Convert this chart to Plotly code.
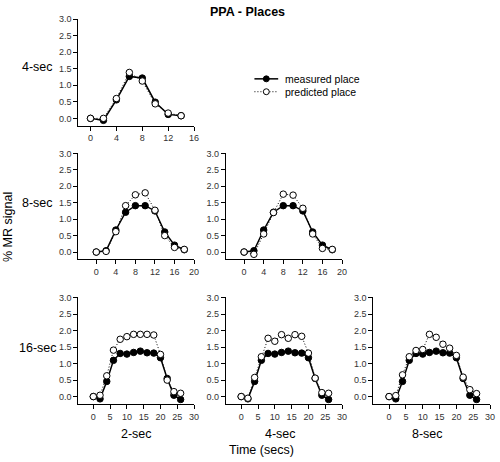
import plotly.graph_objects as go

# ---- data ----
t_short = [0, 2, 4, 6, 8, 10, 12, 14]
t_mid = [0, 2, 4, 6, 8, 10, 12, 14, 16, 18]
t_long = [0, 2, 4, 6, 8, 10, 12, 14, 16, 18, 20, 22, 24, 26]

meas_4 = [0.0, -0.06, 0.56, 1.27, 1.22, 0.49, 0.12, 0.08]
pred_4_2 = [0.0, 0.0, 0.60, 1.39, 1.13, 0.44, 0.16, 0.08]

meas_8 = [0.0, 0.04, 0.67, 1.21, 1.41, 1.41, 1.25, 0.61, 0.21, 0.07]
pred_8_2 = [0.0, 0.02, 0.62, 1.41, 1.74, 1.80, 1.27, 0.50, 0.14, 0.08]
pred_8_4 = [0.0, -0.07, 0.55, 1.20, 1.76, 1.73, 1.33, 0.55, 0.11, 0.08]

meas_16 = [0.0, -0.07, 0.46, 1.10, 1.31, 1.29, 1.34, 1.38, 1.33, 1.32, 1.18, 0.55, 0.04, -0.09]
pred_16_2 = [0.0, 0.04, 0.63, 1.41, 1.74, 1.82, 1.89, 1.89, 1.89, 1.87, 1.28, 0.50, 0.15, 0.10]
pred_16_4 = [0.0, -0.05, 0.58, 1.21, 1.77, 1.68, 1.88, 1.77, 1.88, 1.83, 1.32, 0.56, 0.12, 0.10]
pred_16_8 = [0.0, 0.03, 0.66, 1.21, 1.40, 1.43, 1.89, 1.80, 1.59, 1.47, 1.25, 0.59, 0.21, 0.09]

row_labels = ["4-sec", "8-sec", "16-sec"]
col_labels = ["2-sec", "4-sec", "8-sec"]
legend_labels = ["measured place", "predicted place"]
y_ticks = [0.0, 0.5, 1.0, 1.5, 2.0, 2.5, 3.0]

# panels: (row, col, t, measured, predicted, x range, x dtick)
panels = [
    (0, 0, t_short, meas_4, pred_4_2, [-1.9, 16], 4),
    (1, 0, t_mid, meas_8, pred_8_2, [-3.7, 20], 4),
    (1, 1, t_mid, meas_8, pred_8_4, [-3.75, 20], 4),
    (2, 0, t_long, meas_16, pred_16_2, [-4.5, 30], 5),
    (2, 1, t_long, meas_16, pred_16_4, [-4.6, 30], 5),
    (2, 2, t_long, meas_16, pred_16_8, [-4.7, 30], 5),
]

W, H = 500, 462
col_px = [(79, 196), (228, 345.5), (377, 495)]
row_px = [(14.7, 122.7), (150, 257.5), (295.7, 403.3)]

FONT = "Liberation Sans, Arial, sans-serif"
DOT = "1px,2px"
fig = go.Figure()
tickfont = dict(family=FONT, size=9, color="#333333")

for i, (r, c, t, m, p, xr, dt) in enumerate(panels):
    n = i + 1
    xa = "x" if n == 1 else f"x{n}"
    ya = "y" if n == 1 else f"y{n}"
    fig.add_trace(go.Scatter(
        x=t, y=m, mode="lines+markers", name=legend_labels[0],
        line=dict(color="black", width=1.5),
        marker=dict(symbol="circle", size=6.5, color="black", line=dict(color="black", width=1)),
        xaxis=xa, yaxis=ya, showlegend=False))
    fig.add_trace(go.Scatter(
        x=t, y=p, mode="lines+markers", name=legend_labels[1],
        line=dict(color="black", width=1, dash=DOT),
        marker=dict(symbol="circle", size=6.5, color="white", line=dict(color="black", width=1)),
        xaxis=xa, yaxis=ya, showlegend=False))
    x0, x1 = col_px[c]
    y0, y1 = row_px[r]
    xkey = "xaxis" if n == 1 else f"xaxis{n}"
    ykey = "yaxis" if n == 1 else f"yaxis{n}"
    fig.update_layout(**{
        xkey: dict(domain=[x0 / W, x1 / W], range=xr, anchor=ya, showline=True,
                   linecolor="black", linewidth=1, ticks="outside", ticklen=4,
                   tickcolor="black", tickwidth=1, tick0=0, dtick=dt, showgrid=False,
                   zeroline=False, tickfont=tickfont),
        ykey: dict(domain=[1 - y1 / H, 1 - y0 / H], range=[-0.22, 3.02], anchor=xa,
                   showline=True, linecolor="black", linewidth=1, ticks="outside",
                   ticklen=4, tickcolor="black", tickwidth=1, tickvals=y_ticks,
                   tickformat=".1f", showgrid=False, zeroline=False, tickfont=tickfont),
    })

txtfont = dict(family=FONT, size=12.5, color="black")
ann = [
    dict(x=250 / W, y=1 - 8 / H, text="<b>PPA - Places</b>", font=txtfont),
    dict(x=8 / W, y=1 - 225 / H, text="% MR signal", textangle=-90, font=txtfont),
    dict(x=264 / W, y=1 - 450 / H, text="Time (secs)", font=txtfont),
]
row_y = [64, 200.5, 347]
for lab, yy in zip(row_labels, row_y):
    ann.append(dict(x=38 / W, y=1 - yy / H, text=lab, font=txtfont))
col_x = [138, 283, 432]
for lab, xx in zip(col_labels, col_x):
    ann.append(dict(x=xx / W, y=1 - 434 / H, text=lab, font=txtfont))
for a in ann:
    a.update(xref="paper", yref="paper", showarrow=False, xanchor="center", yanchor="middle")

# manual compact legend
shapes = []
leg_y = [75.5, 88.5]
for k, yy in enumerate(leg_y):
    yp = 1 - yy / H
    ann.append(dict(x=286 / W, y=yp, text=legend_labels[k], xref="paper", yref="paper",
                    showarrow=False, xanchor="left", yanchor="middle",
                    font=dict(family=FONT, size=10.5, color="black")))
    shapes.append(dict(type="line", xref="paper", yref="paper",
                       x0=257 / W, x1=281 / W, y0=yp, y1=yp,
                       line=dict(color="black", width=1.5 if k == 0 else 1,
                                 dash="solid" if k == 0 else DOT)))
    shapes.append(dict(type="circle", xref="paper", yref="paper",
                       x0=(269 - 3) / W, x1=(269 + 3) / W,
                       y0=yp - 3 / H, y1=yp + 3 / H,
                       fillcolor="black" if k == 0 else "white",
                       line=dict(color="black", width=1)))

fig.update_layout(
    width=W, height=H, margin=dict(l=0, r=0, t=0, b=0),
    paper_bgcolor="white", plot_bgcolor="white",
    annotations=ann, shapes=shapes, showlegend=False,
)

fig.write_html("out.html", config={"displayModeBar": False},
               post_script="document.body.style.margin='0';document.body.style.overflow='hidden';")
